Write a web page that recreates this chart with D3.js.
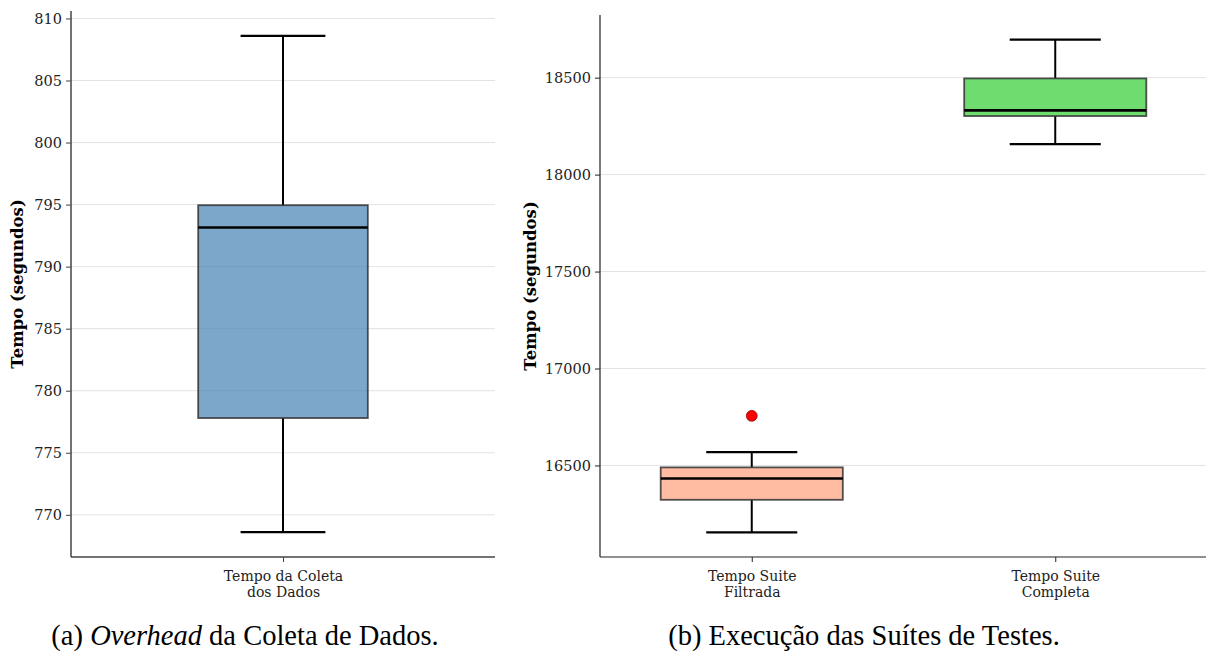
<!DOCTYPE html>
<html>
<head>
<meta charset="utf-8">
<script src="https://cdn.jsdelivr.net/npm/d3@7"></script>
<style>
  body { margin: 0; background: #fff; }
  svg text { font-family: "DejaVu Serif", serif; }
</style>
</head>
<body>
<svg id="chart" width="1206" height="651"></svg>
<script>
// panel (a) - overhead da coleta
var catsA = [["Tempo da Coleta", "dos Dados"]];
var lowA = [768.6], q1A = [777.8], medA = [793.15], q3A = [794.95], highA = [808.6];
var outA = [[]];
var ticksA = [770, 775, 780, 785, 790, 795, 800, 805, 810];

// panel (b) - suites de testes
var catsB = [["Tempo Suite", "Filtrada"], ["Tempo Suite", "Completa"]];
var lowB = [16155, 18157], q1B = [16323, 18302], medB = [16433, 18331], q3B = [16490, 18496], highB = [16569, 18696];
var outB = [[16756], []];
var ticksB = [16500, 17000, 17500, 18000, 18500];

var colorsA = ["steelblue"];
var colorsB = ["lightsalmon", "limegreen"];

var svg = d3.select("#chart");

function panel(opt) {
  var n = opt.cats.length;
  var all = [];
  for (var i = 0; i < n; i++) {
    all.push(opt.low[i], opt.high[i]);
    opt.out[i].forEach(function(v) { all.push(v); });
  }
  var lo = d3.min(all), hi = d3.max(all), pad = (hi - lo) * 0.05;

  var x = d3.scaleLinear().domain([0.5, n + 0.5]).range([opt.x0, opt.x1]);
  var y = d3.scaleLinear().domain([lo - pad, hi + pad]).range([opt.y1, opt.y0]);

  var g = svg.append("g");

  // grid
  g.selectAll("line.grid").data(opt.ticks).enter().append("line")
    .attr("x1", opt.x0).attr("x2", opt.x1)
    .attr("y1", function(d) { return y(d); }).attr("y2", function(d) { return y(d); })
    .style("stroke", "#e3e3e3").style("stroke-width", 1);

  var idx = d3.range(n);
  var bw = 0.4 * (n == 1 ? 1 : 1.5) ;
  var bwPx = x(1 + bw / 2) - x(1 - bw / 2);
  var capPx = bwPx / 2;

  // whiskers
  g.selectAll("line.wlo").data(idx).enter().append("line")
    .attr("x1", function(i) { return x(i + 1); }).attr("x2", function(i) { return x(i + 1); })
    .attr("y1", function(i) { return y(opt.q1[i]); }).attr("y2", function(i) { return y(opt.low[i]); })
    .style("stroke", "#000").style("stroke-width", 2);
  g.selectAll("line.whi").data(idx).enter().append("line")
    .attr("x1", function(i) { return x(i + 1); }).attr("x2", function(i) { return x(i + 1); })
    .attr("y1", function(i) { return y(opt.q3[i]); }).attr("y2", function(i) { return y(opt.high[i]); })
    .style("stroke", "#000").style("stroke-width", 2);
  // caps
  [opt.low, opt.high].forEach(function(arr) {
    g.selectAll(null).data(idx).enter().append("line")
      .attr("x1", function(i) { return x(i + 1) - capPx / 2; }).attr("x2", function(i) { return x(i + 1) + capPx / 2; })
      .attr("y1", function(i) { return y(arr[i]); }).attr("y2", function(i) { return y(arr[i]); })
      .style("stroke", "#000").style("stroke-width", 2.2);
  });

  // boxes
  g.selectAll("rect.box").data(idx).enter().append("rect")
    .attr("x", function(i) { return x(i + 1) - bwPx / 2; })
    .attr("width", bwPx)
    .attr("y", function(i) { return y(opt.q3[i]); })
    .attr("height", function(i) { return y(opt.q1[i]) - y(opt.q3[i]); })
    .style("fill", function(i) { return opt.colors[i]; }).style("fill-opacity", 0.7)
    .style("stroke", "#333").style("stroke-opacity", 0.85).style("stroke-width", 1.8);

  // medians
  g.selectAll("line.med").data(idx).enter().append("line")
    .attr("x1", function(i) { return x(i + 1) - bwPx / 2; }).attr("x2", function(i) { return x(i + 1) + bwPx / 2; })
    .attr("y1", function(i) { return y(opt.med[i]); }).attr("y2", function(i) { return y(opt.med[i]); })
    .style("stroke", "#000").style("stroke-width", 2.6);

  // outliers
  idx.forEach(function(i) {
    g.selectAll(null).data(opt.out[i]).enter().append("circle")
      .attr("cx", x(i + 1)).attr("cy", function(d) { return y(d); }).attr("r", 5.5)
      .style("fill", "red").style("stroke", "#600").style("stroke-width", 0.6);
  });

  // axes
  var ya = g.append("g").attr("transform", "translate(" + opt.x0 + ",0)")
    .call(d3.axisLeft(y).tickValues(opt.ticks).tickSize(5).tickPadding(4).tickFormat(d3.format("d")));
  ya.select(".domain").attr("d", "M0," + opt.y0 + "V" + opt.y1).style("stroke", opt.spine).style("stroke-width", opt.spineW);
  ya.selectAll(".tick line").style("stroke", opt.spine);
  ya.selectAll(".tick text").style("font-family", "DejaVu Serif").style("font-size", "14.5px").style("fill", "#222");

  var xa = g.append("g").attr("transform", "translate(0," + opt.y1 + ")")
    .call(d3.axisBottom(x).tickValues(idx.map(function(i) { return i + 1; })).tickSize(5).tickFormat(""));
  xa.select(".domain").attr("d", "M" + opt.x0 + ",0H" + opt.x1).style("stroke", opt.spine).style("stroke-width", opt.spineW);
  xa.selectAll(".tick line").style("stroke", opt.spine);
  xa.selectAll(".tick").each(function(d, k) {
    var t = d3.select(this).append("text").attr("text-anchor", "middle")
      .style("font-family", "DejaVu Serif").style("font-size", "14px").style("fill", "#222");
    opt.cats[k].forEach(function(line, j) {
      t.append("tspan").attr("x", 0).attr("y", 24 + j * 16).text(line);
    });
  });

  // y label
  svg.append("text")
    .attr("transform", "translate(" + opt.labelX + "," + ((opt.y0 + opt.y1) / 2) + ") rotate(-90)")
    .attr("text-anchor", "middle")
    .style("font-family", "DejaVu Serif").style("font-weight", "bold").style("font-size", "16.5px")
    .text("Tempo (segundos)");
}

panel({ cats: catsA, low: lowA, q1: q1A, med: medA, q3: q3A, high: highA, out: outA, ticks: ticksA,
        colors: colorsA, x0: 71, x1: 495, y0: 11, y1: 557, labelX: 23, spine: "#444", spineW: 1.5 });
panel({ cats: catsB, low: lowB, q1: q1B, med: medB, q3: q3B, high: highB, out: outB, ticks: ticksB,
        colors: colorsB, x0: 600, x1: 1207, y0: 15, y1: 557, labelX: 536, spine: "#222", spineW: 1.2 });

// captions
var capA = svg.append("text").attr("x", 245).attr("y", 645).attr("text-anchor", "middle")
  .style("font-family", "Liberation Serif").style("font-size", "28.5px");
capA.append("tspan").text("(a)  ");
capA.append("tspan").style("font-style", "italic").text("Overhead");
capA.append("tspan").text(" da Coleta de Dados.");

svg.append("text").attr("x", 864).attr("y", 645).attr("text-anchor", "middle")
  .style("font-family", "Liberation Serif").style("font-size", "28.5px")
  .text("(b)  Execução das Suítes de Testes.");
</script>
</body>
</html>
